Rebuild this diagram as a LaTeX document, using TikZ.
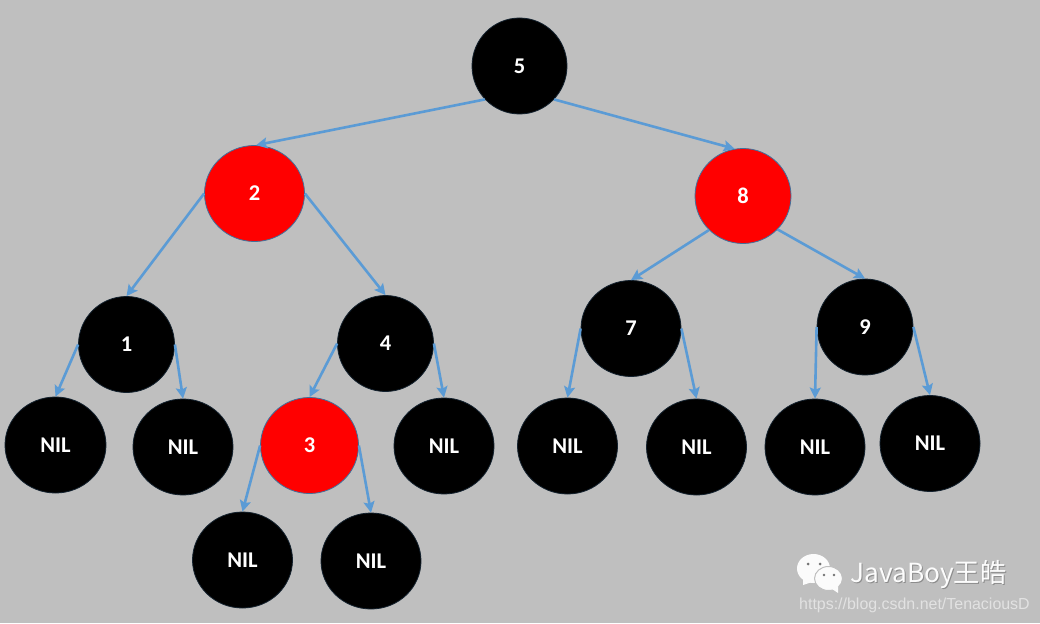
\documentclass[tikz,border=0pt]{standalone}
\usepackage{fontspec}
\setmainfont{Carlito}
\newfontfamily\wmcjk{Noto Sans CJK SC}
\newfontfamily\wmurl{Liberation Sans}
\usetikzlibrary{shapes.geometric,arrows.meta}
\definecolor{bgc}{HTML}{BFBFBF}
\definecolor{edgec}{HTML}{5B9BD5}
\definecolor{rimc}{HTML}{41719C}
\tikzset{
  rb/.style={ellipse,draw=rimc,line width=0.8pt,inner sep=0pt,text=white,
    font=\bfseries\fontsize{22.5}{26}\selectfont},
  blacknode/.style={rb,fill=black,draw=black!70!rimc},
  rednode/.style={rb,fill=red},
  sized/.style 2 args={minimum width=#1pt,minimum height=#2pt},
  tree/.style={draw=edgec,line width=2.6pt,-{Stealth[length=11pt,width=11pt,inset=2pt]}},
  bubble/.style={fill=white!93!bgc,draw=none},
  eyes/.style={fill=black!55,draw=none},
}
\begin{document}
\begin{tikzpicture}[x=1pt,y=-1pt]
\fill[bgc] (0,0) rectangle (1040,623);
\useasboundingbox (0,0) rectangle (1040,623);
\node[blacknode,sized={95}{96}] (n5) at (519.5,66) {5};
\node[rednode,sized={100}{96}] (n2) at (254.5,193.5) {2};
\node[rednode,sized={96}{95}] (n8) at (743,196) {8};
\node[blacknode,sized={96}{96}] (n1) at (126.5,344.5) {1};
\node[blacknode,sized={96}{96}] (n4) at (385.5,343.5) {4};
\node[blacknode,sized={100}{96}] (n7) at (631,328.5) {7};
\node[blacknode,sized={96}{96}] (n9) at (865,327) {9};
\node[rednode,sized={98}{96}] (n3) at (309.5,445.5) {3};
\node[blacknode,sized={101}{96}] (a) at (55.5,445) {NIL};
\node[blacknode,sized={100}{96}] (b) at (183,447) {NIL};
\node[blacknode,sized={100}{96}] (c) at (444,446) {NIL};
\node[blacknode,sized={100}{96}] (d) at (567.5,446) {NIL};
\node[blacknode,sized={100}{96}] (e) at (696.5,447) {NIL};
\node[blacknode,sized={100}{96}] (f) at (815,447) {NIL};
\node[blacknode,sized={100}{96}] (g) at (930,443.5) {NIL};
\node[blacknode,sized={100}{96}] (h) at (242.5,560) {NIL};
\node[blacknode,sized={100}{96}] (i) at (371,561) {NIL};
\draw[tree] (n5.224) -- (n2.88);
\draw[tree] (n5.316) -- (n8.100);
\draw[tree] (n2.west) -- (n1.north);
\draw[tree] (n2.east) -- (n4.north);
\draw[tree] (n8.225) -- (n7.north);
\draw[tree] (n8.316) -- (n9.north);
\draw[tree] (n1.west) -- (a.north);
\draw[tree] (n1.east) -- (b.north);
\draw[tree] (n4.west) -- (n3.north);
\draw[tree] (n4.east) -- (c.north);
\draw[tree] (n3.west) -- (h.north);
\draw[tree] (n3.east) -- (i.north);
\draw[tree] (n7.west) -- (d.north);
\draw[tree] (n7.east) -- (e.north);
\draw[tree] (n9.west) -- (f.north);
\draw[tree] (n9.east) -- (g.north);
% watermark
\fill[bubble] (813.5,568.5) ellipse [x radius=16.5,y radius=14.5];
\fill[bubble] (803,578) -- (803,585) -- (812,582) -- cycle;
\fill[eyes] (808,564) circle (1.5) (820,564) circle (1.5);
\fill[bubble,draw=bgc,line width=1pt] (828.5,578.5) ellipse [x radius=14,y radius=12];
\fill[bubble] (832,589) -- (838,593) -- (838,586) -- cycle;
\fill[eyes] (824,575) circle (1.4) (834,575) circle (1.4);
\node[anchor=base west,inner sep=0pt,text=black!45,font=\wmcjk\fontsize{26.3}{30}\selectfont] (wshadow) at (851,583) {JavaBoy王皓};
\node[anchor=base west,inner sep=0pt,text=white!95!bgc,font=\wmcjk\fontsize{26.3}{30}\selectfont] (wname) at (850,582) {JavaBoy王皓};
\node[anchor=base west,inner sep=0pt,text=white!55!bgc,font=\wmurl\fontsize{15.95}{18}\selectfont] (wurl) at (799,609) {https://blog.csdn.net/TenaciousD};
\end{tikzpicture}
\end{document}
